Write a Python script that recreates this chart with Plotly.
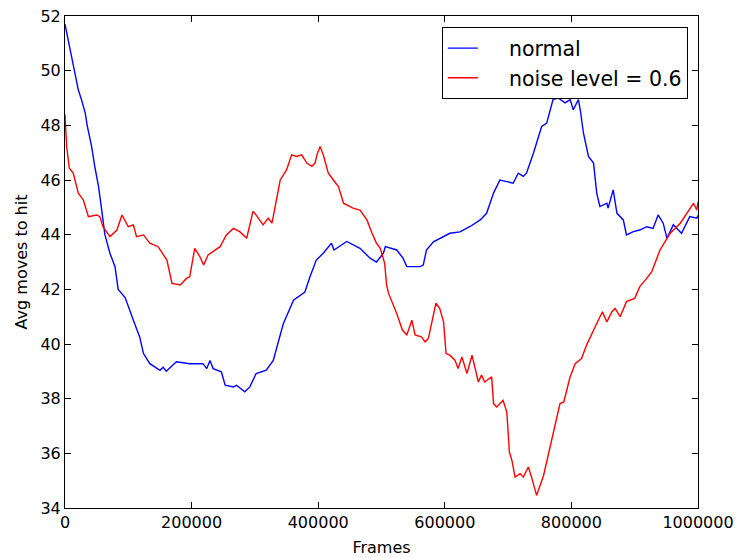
import plotly.graph_objects as go

# Frames (thousands) and average moves to hit
normal_x_k = [0, 5, 10.5, 16, 21, 26, 32, 35, 42, 47, 53, 58, 63, 71, 79, 84, 95, 108, 118, 124,
              134, 150, 155, 160, 176, 197, 218, 224, 229, 234, 247, 253, 266, 271, 284, 292, 302,
              318, 329, 345, 361, 379, 387, 397, 408, 421, 425, 445, 466, 482, 492, 503, 506, 524,
              534, 540, 561, 566, 571, 582, 587, 608, 624, 640, 656, 666, 677, 687, 698, 708, 716,
              724, 729, 740, 753, 761, 771, 779, 790, 798, 803, 811, 814, 819, 827, 835, 840, 845,
              856, 858, 866, 872, 882, 887, 898, 908, 919, 929, 937, 945, 951, 961, 974, 987, 998,
              1000]
normal_y = [51.7, 51.14, 50.4, 49.8, 49.3, 48.94, 48.45, 48.0, 47.23, 46.5, 45.76, 44.9, 44.0, 43.32,
            42.83, 42.0, 41.7, 40.87, 40.26, 39.65, 39.28, 39.04, 39.15, 39.0, 39.35, 39.28, 39.28,
            39.1, 39.4, 39.1, 38.98, 38.49, 38.43, 38.49, 38.25, 38.43, 38.92, 39.04, 39.4, 40.75,
            41.6, 41.9, 42.46, 43.07, 43.32, 43.69, 43.44, 43.75, 43.5, 43.14, 43.0, 43.32, 43.56,
            43.44, 43.14, 42.83, 42.83, 42.89, 43.44, 43.74, 43.8, 44.05, 44.1, 44.3, 44.54, 44.78,
            45.52, 46.0, 45.94, 45.88, 46.25, 46.13, 46.25, 46.98, 47.96, 48.08, 48.94, 49.0, 48.82,
            48.94, 48.57, 48.94, 48.57, 47.72, 46.86, 46.62, 45.52, 45.03, 45.15, 44.97, 45.64,
            44.78, 44.54, 43.99, 44.11, 44.17, 44.29, 44.23, 44.72, 44.42, 43.87, 44.36, 44.05,
            44.66, 44.6, 44.7]

noise_x_k = [0, 2.6, 6.8, 13, 21, 29, 37, 50, 55, 60, 71, 82, 90, 100, 108, 113, 124, 134, 147, 161,
             169, 182, 192, 197, 205, 213, 219, 226, 245, 255, 266, 276, 287, 297, 300, 313, 321,
             327, 340, 350, 358, 366, 374, 382, 390, 395, 398, 403, 408, 416, 424, 432, 440, 455,
             466, 477, 485, 492, 498, 505, 508, 511, 524, 533, 540, 548, 553, 563, 569, 574, 586,
             592, 598, 602, 608, 616, 621, 627, 635, 643, 653, 658, 663, 674, 677, 682, 692, 698,
             702, 706, 711, 719, 724, 732, 737, 745, 756, 782, 788, 798, 806, 816, 824, 832, 840,
             849, 856, 864, 869, 877, 887, 900, 908, 919, 927, 940, 956, 972, 982, 993, 998, 1000]
noise_y = [48.4, 47.23, 46.43, 46.25, 45.52, 45.27, 44.66, 44.72, 44.66, 44.29, 43.93, 44.17, 44.72,
           44.29, 44.36, 43.93, 43.99, 43.69, 43.56, 43.07, 42.22, 42.16, 42.4, 42.46, 43.5, 43.2,
           42.89, 43.26, 43.56, 43.99, 44.23, 44.11, 43.87, 44.85, 44.78, 44.36, 44.6, 44.42, 46.0,
           46.37, 46.92, 46.86, 46.92, 46.62, 46.5, 46.62, 46.92, 47.23, 46.92, 46.25, 46.0, 45.76,
           45.15, 44.97, 44.9, 44.54, 44.05, 43.69, 43.5, 42.95, 42.16, 41.86, 41.12, 40.51, 40.33,
           40.87, 40.33, 40.26, 40.08, 40.2, 41.49, 41.3, 40.81, 39.65, 39.59, 39.41, 39.1, 39.53,
           38.92, 39.59, 38.61, 38.86, 38.61, 38.8, 37.82, 37.7, 37.94, 37.51, 36.05, 35.74, 35.13,
           35.26, 35.13, 35.5, 35.13, 34.46, 35.19, 37.82, 37.88, 38.8, 39.28, 39.47, 39.96, 40.39,
           40.75, 41.18, 40.81, 41.18, 41.3, 41.0, 41.55, 41.67, 42.1, 42.4, 42.65, 43.44, 44.05,
           44.42, 44.79, 45.15, 44.9, 45.2]

x_ticks = [0, 200000, 400000, 600000, 800000, 1000000]
y_ticks = [34, 36, 38, 40, 42, 44, 46, 48, 50, 52]

FONT = "DejaVu Sans"
PAD = "\u00a0\u00a0\u00a0\u00a0"

fig = go.Figure()
fig.add_trace(go.Scatter(x=[v * 1000 for v in normal_x_k], y=normal_y, mode="lines",
                         name=PAD + "normal",
                         line=dict(color="#0000ff", width=1.4)))
fig.add_trace(go.Scatter(x=[v * 1000 for v in noise_x_k], y=noise_y, mode="lines",
                         name=PAD + "noise level = 0.6",
                         line=dict(color="#ff0000", width=1.4)))

axis_common = dict(showgrid=False, zeroline=False, showline=True, linecolor="black", linewidth=1,
                   mirror="ticks", ticks="inside", ticklen=6, tickcolor="black", automargin=False,
                   tickfont=dict(family=FONT, size=16, color="black"))

fig.update_xaxes(range=[0, 1000000], tickvals=x_ticks, ticktext=[str(v) for v in x_ticks],
                 title=dict(text="Frames", font=dict(family=FONT, size=16, color="black"), standoff=10),
                 **axis_common)
fig.update_yaxes(range=[34, 52], tickvals=y_ticks, ticktext=[str(v) for v in y_ticks],
                 title=dict(text="Avg moves to hit", font=dict(family=FONT, size=16, color="black"),
                            standoff=8),
                 **axis_common)

fig.update_layout(
    width=737, height=558,
    margin=dict(l=65, r=39, t=16, b=50),
    paper_bgcolor="white", plot_bgcolor="white",
    font=dict(family=FONT, color="black"),
    legend=dict(x=0.984, y=0.977, xanchor="right", yanchor="top",
                bordercolor="black", borderwidth=1, bgcolor="white",
                font=dict(family=FONT, size=20.5, color="black"),
                itemwidth=30, tracegroupgap=0),
    showlegend=True,
)

fig.write_html("out.html")
